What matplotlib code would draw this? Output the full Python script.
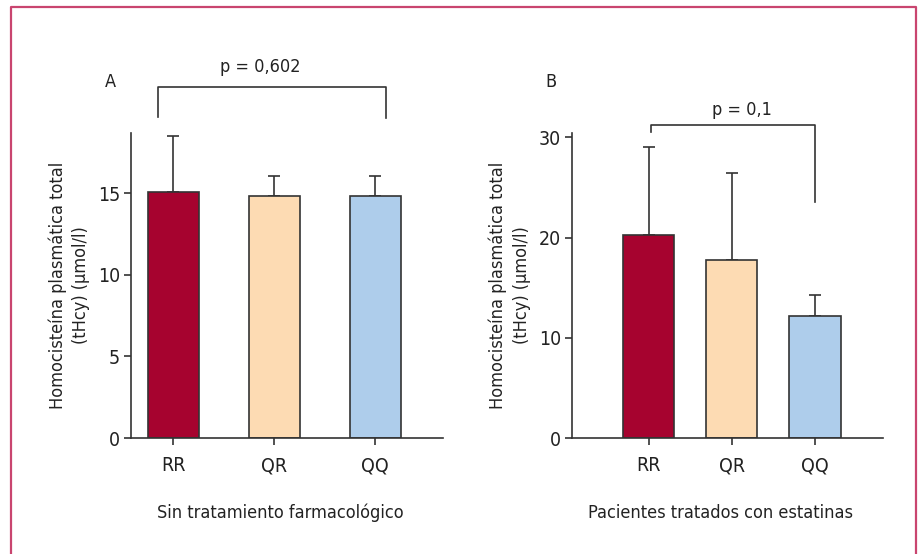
import matplotlib
matplotlib.use("Agg")
import matplotlib.pyplot as plt

# data
genotypes = ["RR", "QR", "QQ"]
colors = ["#a6032f", "#fddbb3", "#aecdeb"]

untreated_mean = [15.1, 14.85, 14.85]
untreated_err = [3.4, 1.2, 1.2]
statin_mean = [20.3, 17.8, 12.2]
statin_err = [8.7, 8.6, 2.1]

ylabel = "Homocisteína plasmática total\n(tHcy) (µmol/l)"

plt.rcParams["font.family"] = ["DejaVu Sans"]
plt.rcParams["font.stretch"] = "condensed"
plt.rcParams["font.size"] = 13

dark = "#333333"
txt = "#222222"
W, H = 918, 554

fig = plt.figure(figsize=(W / 100, H / 100), dpi=100)


def panel(rect, means, errs, ylim, xlim, width, yticks, xlabel, xlab_x, ylab_x):
    ax = fig.add_axes(rect)
    x = range(len(genotypes))
    ax.errorbar(x, means, yerr=[[0] * len(errs), errs], fmt="none",
                ecolor=dark, elinewidth=1.2, capsize=4, capthick=1.2, zorder=1)
    ax.bar(x, means, width=width, color=colors, edgecolor=dark, linewidth=1.2, zorder=2)
    ax.set_xlim(*xlim)
    ax.set_ylim(*ylim)
    ax.set_yticks(yticks)
    ax.set_xticks(list(x))
    ax.set_xticklabels(genotypes)
    for s in ["top", "right"]:
        ax.spines[s].set_visible(False)
    for s in ["left", "bottom"]:
        ax.spines[s].set_color(dark)
        ax.spines[s].set_linewidth(1.2)
    ax.tick_params(axis="y", length=5, width=1.2, color=dark, pad=3, labelcolor=txt, labelsize=14)
    ax.tick_params(axis="x", length=5, width=1.2, color=dark, pad=8, labelcolor=txt, labelsize=14)
    ax.set_ylabel(ylabel, linespacing=1.4, color=txt)
    ax.yaxis.set_label_coords(ylab_x, 0.5)
    ax.set_xlabel(xlabel, color=txt)
    ax.xaxis.set_label_coords(xlab_x, -0.215)
    return ax


def bracket(ax, x0, x1, ytop, y0, y1, text, tx, ty):
    ax.plot([x0, x0, x1, x1], [y0, ytop, ytop, y1], color=dark, lw=1.2, clip_on=False)
    ax.text(tx, ty, text, ha="center", va="baseline", color=txt)


axA = panel([131 / W, 116 / H, 312 / W, 305 / H], untreated_mean, untreated_err,
            (0, 18.7), (-0.416, 2.673), 0.505, [0, 5, 10, 15],
            "Sin tratamiento farmacológico", 0.48, -0.13)
bracket(axA, -0.15, 2.11, 21.5, 19.7, 19.6, "p = 0,602", 0.86, 22.45)

axB = panel([572 / W, 116 / H, 311 / W, 305 / H], statin_mean, statin_err,
            (0, 30.44), (-0.919, 2.817), 0.613, [0, 10, 20, 30],
            "Pacientes tratados con estatinas", 0.479, -0.133)
bracket(axB, 0.03, 2.0, 31.2, 30.5, 23.6, "p = 0,1", 1.12, 32.2)

fig.text(110 / W, 1 - 82 / H, "A", ha="center", va="center", color=txt)
fig.text(551 / W, 1 - 82 / H, "B", ha="center", va="center", color=txt)

# frame around the figure (open at the bottom)
border = "#c9456f"
fig.add_artist(plt.Line2D([10.5 / W, 10.5 / W, 916 / W, 916 / W],
                          [0, 1 - 7 / H, 1 - 7 / H, 0], color=border, lw=1.6))

fig.savefig("out.png", dpi=100)
